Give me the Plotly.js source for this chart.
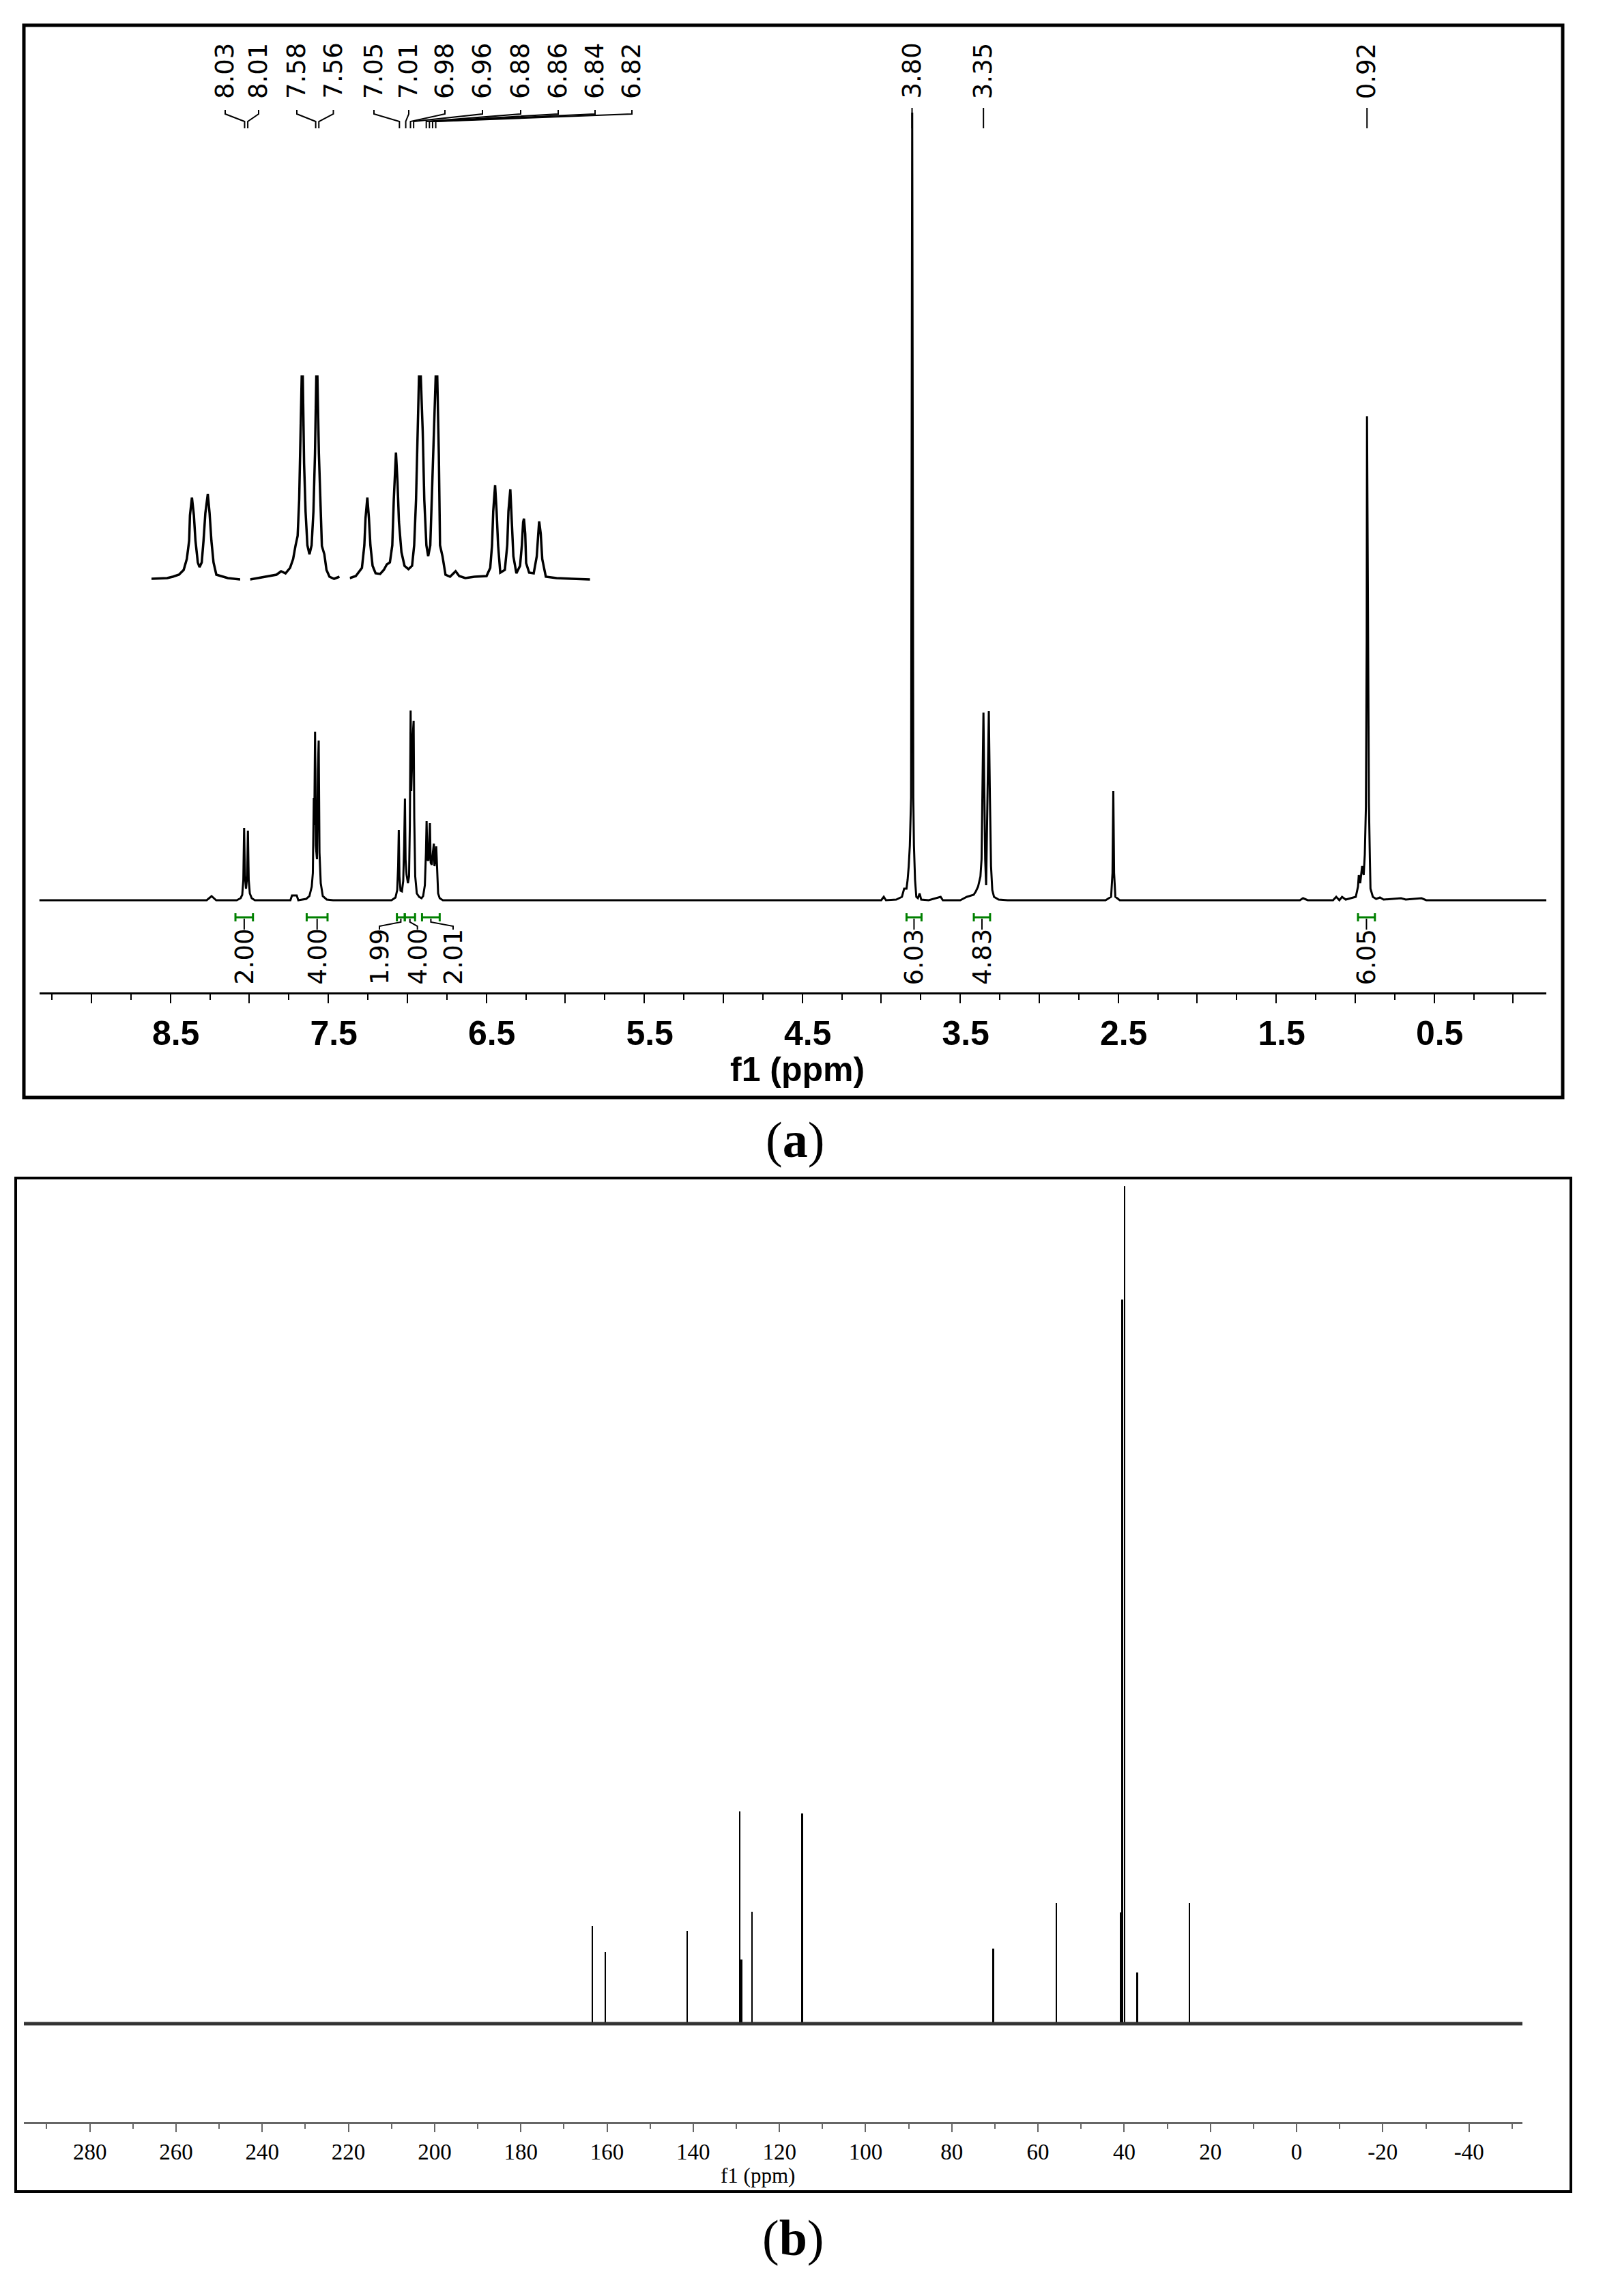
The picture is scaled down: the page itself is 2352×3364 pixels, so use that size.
<!DOCTYPE html>
<html>
<head>
<meta charset="utf-8">
<script src="https://cdn.plot.ly/plotly-3.0.1.min.js"></script>
<style>
  html, body { margin: 0; padding: 0; background: #fff; }
  #nmr { width: 2352px; height: 3364px; }
</style>
</head>
<body>
<div id="nmr"></div>
<script>
// ---- (a) 1H spectrum, intensity in arbitrary units (baseline = 0)
const h1Ppm = [9.33, 8.27, 8.239, 8.21, 8.08, 8.055, 8.045, 8.038, 8.033, 8.028, 8.021, 8.014, 8.009, 8.004, 7.997, 7.985, 7.965,
  7.74, 7.73, 7.70, 7.69, 7.64, 7.62, 7.605, 7.598, 7.592, 7.589, 7.584, 7.579, 7.572, 7.566, 7.561, 7.556, 7.548, 7.535, 7.51, 7.47,
  7.10, 7.075, 7.064, 7.058, 7.054, 7.050, 7.043, 7.034, 7.026, 7.020, 7.015, 7.011, 7.005, 6.996, 6.989, 6.984, 6.979, 6.975, 6.970,
  6.965, 6.960, 6.956, 6.950, 6.940, 6.925, 6.910, 6.900, 6.889, 6.882, 6.878, 6.873, 6.866, 6.861, 6.857, 6.852, 6.845, 6.838, 6.832,
  6.828, 6.822, 6.817, 6.812, 6.805, 6.795, 6.775,
  4.00, 3.984, 3.97, 3.905, 3.869, 3.855, 3.840, 3.833, 3.826, 3.819, 3.811, 3.804, 3.797, 3.793, 3.786, 3.778, 3.768, 3.757, 3.747,
  3.70, 3.624, 3.61, 3.50, 3.458, 3.415, 3.401, 3.387, 3.372, 3.365, 3.358, 3.353, 3.348, 3.342, 3.336, 3.329, 3.319, 3.312, 3.305,
  3.297, 3.286, 3.257, 3.20,
  2.58, 2.545, 2.536, 2.531, 2.526, 2.518, 2.49,
  1.35, 1.33, 1.30, 1.14, 1.12, 1.10, 1.083, 1.06, 0.996, 0.982, 0.977, 0.968, 0.956, 0.946, 0.939, 0.932, 0.927, 0.925, 0.917,
  0.913, 0.907, 0.903, 0.888, 0.867, 0.843, 0.82, 0.71, 0.68, 0.58, 0.55, -0.21];
const h1Int = [0, 0, 6, 0, 0, 3, 8, 30, 106, 35, 17, 35, 102, 30, 10, 3, 0,
  0, 7, 7, 0, 2, 6, 20, 40, 150, 110, 247, 80, 60, 190, 234, 70, 25, 6, 1, 0,
  0, 4, 15, 50, 103, 35, 14, 13, 28, 80, 149, 60, 38, 25, 35, 110, 278, 160, 210,
  243, 263, 120, 35, 10, 5, 3, 6, 22, 70, 116, 60, 58, 90, 113, 55, 52, 70, 83,
  50, 60, 79, 40, 10, 3, 0,
  0, 5, 0, 1, 5, 17, 17, 30, 50, 80, 150, 1154, 150, 80, 30, 5, 3, 10, 1,
  0, 5, 0, 0, 5, 8, 13, 20, 35, 60, 200, 275, 170, 60, 22, 120, 277, 150, 50,
  15, 5, 1, 0,
  0, 5, 40, 160, 40, 5, 0,
  0, 3, 0, 0, 5, 0, 5, 1, 5, 20, 37, 25, 50, 37, 67, 137, 380, 709, 326,
  142, 62, 17, 5, 2, 4, 1, 3, 1, 3, 0, 0];

// expanded aromatic region (inset), drawn in three pieces
const inset1Ppm = [8.081, 8.061, 8.054, 8.046, 8.040, 8.036, 8.033, 8.032, 8.0295, 8.027, 8.025, 8.022, 8.0198, 8.017, 8.0147,
  8.0124, 8.0093, 8.007, 8.0047, 8.002, 7.9984, 7.9914, 7.9837, 7.968];
const inset1Int = [0, 1, 3, 6, 13, 29, 56, 93, 119, 93, 56, 24, 17, 24, 56, 96, 124, 96, 56, 24, 6, 4, 1, -1];
const inset2Ppm = [7.648, 7.6294, 7.6136, 7.6076, 7.6018, 7.5959, 7.5919, 7.5887, 7.586, 7.584, 7.582, 7.5799, 7.5776, 7.5757,
  7.5733, 7.5706, 7.5678, 7.5654, 7.5634, 7.561, 7.5583, 7.5563, 7.5544, 7.5512, 7.5484, 7.5445, 7.5385, 7.5315];
const inset2Int = [-1, 3, 6, 11, 8, 16, 29, 49, 63, 116, 216, 340, 169, 99, 49, 36, 49, 99, 183, 340, 183, 99, 48, 36, 13, 3, 0, 3];
const inset3Ppm = [7.0730, 7.0649, 7.0567, 7.0535, 7.0519, 7.0495, 7.0474, 7.0454, 7.0425, 7.0385, 7.0324, 7.0275, 7.0235, 7.0194,
  7.0162, 7.0142, 7.0113, 7.0093, 7.0073, 7.0040, 6.9999, 6.9946, 6.9898, 6.9870, 6.9845, 6.9796, 6.9756, 6.9735, 6.9707, 6.9683,
  6.9655, 6.9635, 6.9606, 6.9570, 6.9541, 6.9525, 6.9492, 6.9452, 6.9391, 6.9317, 6.9269, 6.9188, 6.9066, 6.8904, 6.8855, 6.8831,
  6.8815, 6.8790, 6.8770, 6.8750, 6.8721, 6.8660, 6.8628, 6.8612, 6.8587, 6.8567, 6.8546, 6.8506, 6.8457, 6.8433, 6.8416, 6.8405,
  6.8388, 6.8376, 6.8336, 6.8275, 6.8234, 6.8214, 6.8202, 6.8181, 6.8161, 6.8113, 6.7970, 6.7767, 6.7524];
const inset3Int = [1, 4, 16, 49, 89, 119, 89, 49, 19, 8, 7, 13, 21, 24, 49, 116, 185, 143, 83, 39, 19, 14, 19, 49, 116, 340, 216,
  116, 49, 33, 49, 116, 216, 340, 183, 49, 33, 6, 3, 11, 4, 1, 3, 4, 16, 49, 99, 137, 99, 49, 9, 13, 49, 99, 131, 83, 33, 8, 19,
  49, 83, 88, 66, 23, 9, 8, 33, 66, 84, 66, 29, 3, 1, 0, -1];

// peak picking and integrals
const h1PeakText = ['8.03', '8.01', '7.58', '7.56', '7.05', '7.01', '6.98', '6.96', '6.88', '6.86', '6.84', '6.82', '3.80', '3.35', '0.92'];
const h1PeakPpm = [8.03, 8.01, 7.58, 7.56, 7.05, 7.01, 6.98, 6.96, 6.88, 6.86, 6.84, 6.82, 3.805, 3.353, 0.925];
const h1IntegralFrom = [8.088, 7.637, 7.066, 7.016, 6.907, 3.84, 3.414, 0.982];
const h1IntegralTo = [7.977, 7.505, 7.016, 6.951, 6.795, 3.745, 3.311, 0.875];
const h1IntegralText = ['2.00', '4.00', '1.99', '4.00', '2.01', '6.03', '4.83', '6.05'];

const h1TickVals = [9, 8.5, 8, 7.5, 7, 6.5, 6, 5.5, 5, 4.5, 4, 3.5, 3, 2.5, 2, 1.5, 1, 0.5, 0];
const h1TickText = ['', '8.5', '', '7.5', '', '6.5', '', '5.5', '', '4.5', '', '3.5', '', '2.5', '', '1.5', '', '0.5', ''];
const h1MinorVals = [9.25, 8.75, 8.25, 7.75, 7.25, 6.75, 6.25, 5.75, 5.25, 4.75, 4.25, 3.75, 3.25, 2.75, 2.25, 1.75, 1.25, 0.75, 0.25];

// ---- (b) 13C spectrum
const c13Ppm = [163.4, 160.4, 141.4, 129.2, 128.8, 126.4, 114.7, 70.4, 55.7, 40.9, 40.45, 39.9, 37.0, 24.9];
const c13Int = [143, 105, 136, 311, 94, 164, 308, 110, 177, 163, 1061, 1227, 75, 177];
const c13NoisePpm = [295.3, -52.4];
const c13NoiseInt = [0, 0];
const c13TickVals = [280, 260, 240, 220, 200, 180, 160, 140, 120, 100, 80, 60, 40, 20, 0, -20, -40];
const c13TickText = ['280', '260', '240', '220', '200', '180', '160', '140', '120', '100', '80', '60', '40', '20', '0', '-20', '-40'];
const c13MinorVals = [290, 270, 250, 230, 210, 190, 170, 150, 130, 110, 90, 70, 50, 30, 10, -10, -30, -50];

// ---- page geometry (pixels of the 2352 x 3364 page)
const W = 2352, H = 3364;
const px = v => v / W;
const py = v => 1 - v / H;
const aDomain = [57.5, 2266], aRange = [9.33, -0.21];
const ppmAt = p => aRange[0] + (p - aDomain[0]) / (aDomain[1] - aDomain[0]) * (aRange[1] - aRange[0]);

const labelPx = [330, 379, 435, 488.5, 548, 599, 652, 707, 763, 818, 872, 926, null, null, null];
const integralLabelPx = [null, null, 556, 611.7, 664, null, null, null];

const black = '#000';
const green = '#008000';
const labelFont = { family: 'DejaVu Sans', size: 37, color: black };

const traces = [
  { x: h1Ppm, y: h1Int, xaxis: 'x', yaxis: 'y', type: 'scatter', mode: 'lines', line: { color: black, width: 3 } },
  { x: inset1Ppm, y: inset1Int, xaxis: 'x2', yaxis: 'y2', type: 'scatter', mode: 'lines', line: { color: black, width: 3.5 } },
  { x: inset2Ppm, y: inset2Int, xaxis: 'x3', yaxis: 'y2', type: 'scatter', mode: 'lines', line: { color: black, width: 3.5 } },
  { x: inset3Ppm, y: inset3Int, xaxis: 'x4', yaxis: 'y2', type: 'scatter', mode: 'lines', line: { color: black, width: 3.5 } },
  { x: c13NoisePpm, y: c13NoiseInt, xaxis: 'x5', yaxis: 'y3', type: 'scatter', mode: 'lines', line: { color: '#333', width: 5 } },
  { x: c13Ppm, y: c13Int, xaxis: 'x5', yaxis: 'y3', type: 'bar', width: 0.38, marker: { color: black, line: { width: 0 } } }
];

const shapes = [];
const annotations = [];

// frames
shapes.push({ type: 'rect', xref: 'paper', yref: 'paper', x0: px(35), x1: px(2290), y0: py(37), y1: py(1608),
  line: { color: black, width: 5 } });
shapes.push({ type: 'rect', xref: 'paper', yref: 'paper', x0: px(23), x1: px(2302), y0: py(1726), y1: py(3211),
  line: { color: black, width: 4 } });

// peak labels with their connectors
h1PeakText.forEach((t, i) => {
  const p = h1PeakPpm[i];
  const lx = labelPx[i] == null ? p : ppmAt(labelPx[i]);
  annotations.push({ text: t, xref: 'x', yref: 'paper', x: lx, y: py(104), textangle: -90, showarrow: false,
    xanchor: 'center', yanchor: 'middle', font: labelFont });
  const path = labelPx[i] == null
    ? `M ${p},${py(158)} L ${p},${py(188)}`
    : `M ${lx},${py(161)} L ${lx},${py(167)} L ${p},${py(178)} L ${p},${py(188)}`;
  shapes.push({ type: 'path', xref: 'x', yref: 'paper', path: path, line: { color: black, width: 2 } });
});

// integrals
h1IntegralText.forEach((t, i) => {
  const a = h1IntegralFrom[i], b = h1IntegralTo[i], c = (a + b) / 2;
  shapes.push({ type: 'line', xref: 'x', yref: 'paper', x0: a, x1: b, y0: py(1344), y1: py(1344), line: { color: green, width: 3 } });
  shapes.push({ type: 'line', xref: 'x', yref: 'paper', x0: a, x1: a, y0: py(1338), y1: py(1350), line: { color: green, width: 3 } });
  shapes.push({ type: 'line', xref: 'x', yref: 'paper', x0: b, x1: b, y0: py(1338), y1: py(1350), line: { color: green, width: 3 } });
  const lx = integralLabelPx[i] == null ? c : ppmAt(integralLabelPx[i]);
  const path = integralLabelPx[i] == null
    ? `M ${c},${py(1346)} L ${c},${py(1362)}`
    : `M ${c},${py(1346)} L ${c},${py(1351)} L ${lx},${py(1357)} L ${lx},${py(1362)}`;
  shapes.push({ type: 'path', xref: 'x', yref: 'paper', path: path, line: { color: black, width: 2 } });
  annotations.push({ text: t, xref: 'x', yref: 'paper', x: lx, y: py(1402), textangle: -90, showarrow: false,
    xanchor: 'center', yanchor: 'middle', font: labelFont });
});

// axis titles and panel captions
annotations.push({ text: '<b>f1 (ppm)</b>', xref: 'paper', yref: 'paper', x: px(1168), y: py(1567), showarrow: false,
  xanchor: 'center', yanchor: 'middle', font: { family: 'Liberation Sans', size: 50, color: black } });
annotations.push({ text: 'f1 (ppm)', xref: 'paper', yref: 'paper', x: px(1110), y: py(3187), showarrow: false,
  xanchor: 'center', yanchor: 'middle', font: { family: 'Liberation Serif', size: 31, color: black } });
annotations.push({ text: '(<b>a</b>)', xref: 'paper', yref: 'paper', x: px(1165), y: py(1670), showarrow: false,
  xanchor: 'center', yanchor: 'middle', font: { family: 'Liberation Serif', size: 74, color: black } });
annotations.push({ text: '(<b>b</b>)', xref: 'paper', yref: 'paper', x: px(1162), y: py(3279), showarrow: false,
  xanchor: 'center', yanchor: 'middle', font: { family: 'Liberation Serif', size: 74, color: black } });

const hidden = { visible: false, showgrid: false, zeroline: false, fixedrange: true };

const layout = {
  width: W, height: H,
  margin: { l: 0, r: 0, t: 0, b: 0 },
  paper_bgcolor: '#fff', plot_bgcolor: 'rgba(0,0,0,0)',
  showlegend: false, hovermode: false, bargap: 0,
  xaxis: {
    domain: [px(aDomain[0]), px(aDomain[1])], range: aRange, anchor: 'y',
    showline: true, linecolor: black, linewidth: 3, showgrid: false, zeroline: false,
    ticks: 'outside', ticklen: 13, tickwidth: 2, tickcolor: black,
    tickmode: 'array', tickvals: h1TickVals, ticktext: h1TickText.map(s => s ? '<b>' + s + '</b>' : ''),
    tickfont: { family: 'Liberation Sans', size: 50, color: black },
    ticklabelstandoff: 1, ticklabelshift: -8,
    minor: { tickmode: 'array', tickvals: h1MinorVals, ticks: 'outside', ticklen: 8, tickwidth: 2, tickcolor: black }
  },
  yaxis: Object.assign({ domain: [py(1454), py(40)], range: [-135, 1279], anchor: 'x' }, hidden),
  xaxis2: Object.assign({ domain: [px(222), px(352)], range: [8.081, 7.968], anchor: 'y2' }, hidden),
  xaxis3: Object.assign({ domain: [px(366.5), px(498)], range: [7.648, 7.531], anchor: 'y2' }, hidden),
  xaxis4: Object.assign({ domain: [px(512.5), px(865)], range: [7.073, 6.752], anchor: 'y2' }, hidden),
  yaxis2: Object.assign({ domain: [py(852), py(550)], range: [-4, 298], anchor: 'x2' }, hidden),
  xaxis5: {
    domain: [px(35), px(2231)], range: [295.3, -52.4], anchor: 'y3',
    showline: true, linecolor: '#666', linewidth: 3, showgrid: false, zeroline: false,
    ticks: 'outside', ticklen: 12, tickwidth: 2, tickcolor: '#666',
    tickmode: 'array', tickvals: c13TickVals, ticktext: c13TickText,
    tickfont: { family: 'Liberation Serif', size: 33, color: black },
    ticklabelstandoff: 0,
    minor: { tickmode: 'array', tickvals: c13MinorVals, ticks: 'outside', ticklen: 7, tickwidth: 2, tickcolor: '#666' }
  },
  yaxis3: Object.assign({ domain: [py(3109), py(1727)], range: [-144, 1238], anchor: 'x5' }, hidden),
  shapes: shapes,
  annotations: annotations
};

Plotly.newPlot('nmr', traces, layout, { staticPlot: true, displayModeBar: false });
</script>
</body>
</html>
